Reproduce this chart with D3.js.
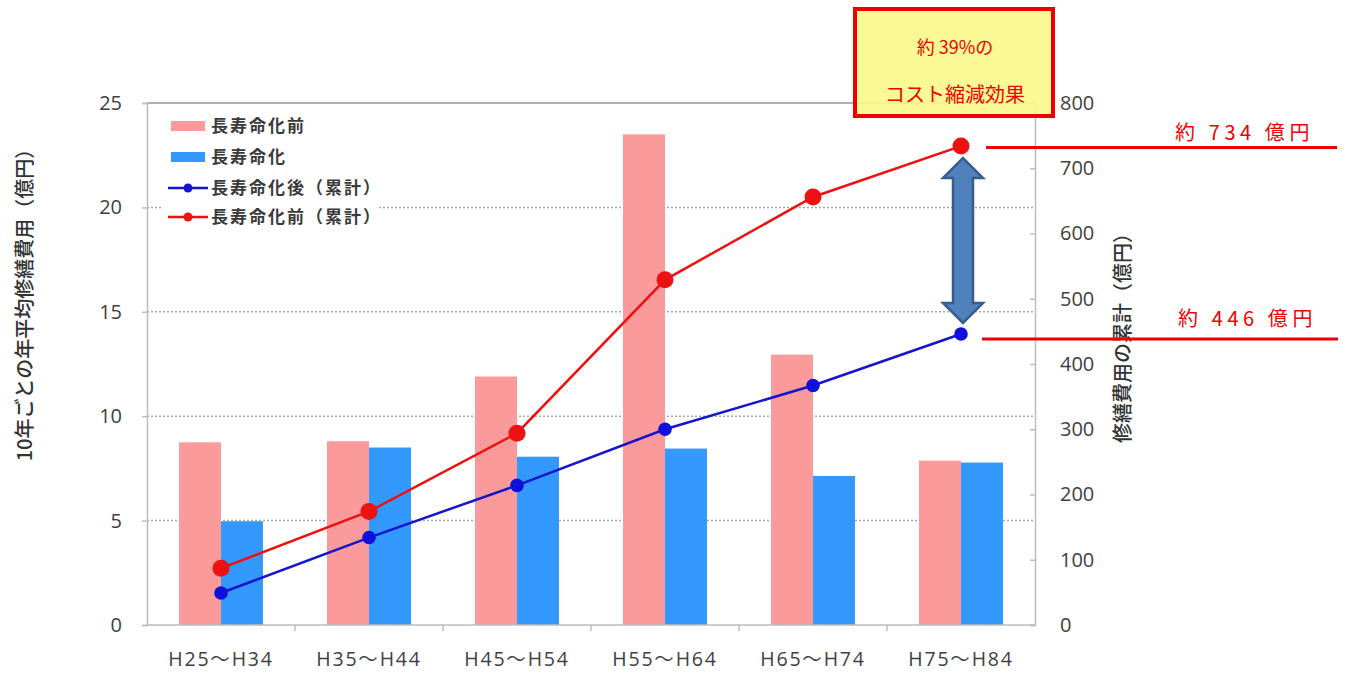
<!DOCTYPE html>
<html><head><meta charset="utf-8">
<script src="https://cdn.jsdelivr.net/npm/d3@7"></script>
<style>
body{margin:0;background:#fff;}
svg{display:block;font-family:"Noto Sans CJK JP","Noto Sans",sans-serif;}
</style></head>
<body><svg id="c" width="1345" height="677"></svg>
<script>
const categories = ["H25～H34","H35～H44","H45～H54","H55～H64","H65～H74","H75～H84"];
const barBefore = [8.75, 8.8, 11.9, 23.5, 12.95, 7.87];   // 長寿命化前
const barAfter  = [4.97, 8.5, 8.06, 8.45, 7.14, 7.78];    // 長寿命化
const cumAfter  = [49, 134, 214, 300, 367, 446];          // 長寿命化後（累計）
const cumBefore = [87, 174, 294, 529, 656, 734];          // 長寿命化前（累計）
const leftTicks = [0,5,10,15,20,25];
const rightTicks = [0,100,200,300,400,500,600,700,800];
const legendLabels = ["長寿命化前","長寿命化","長寿命化後（累計）","長寿命化前（累計）"];
const leftTitle = "10年ごとの年平均修繕費用（億円）";
const rightTitle = "修繕費用の累計（億円）";
const noteLines = ["約 39%の","コスト縮減効果"];
const labelTop = "約 734 億円";
const labelBottom = "約 446 億円";

const svg = d3.select("#c");
const L = 147, R = 1035, T = 103, B = 625;
const pink = "#fb9a9a", blue = "#3399ff", red = "#ee1111", navy = "#1515cc";
const txt = "#404040", axisCol = "#bdbdbd";
const latin = "'Open Sans','Noto Sans CJK JP',sans-serif";

const x0 = d3.scaleBand().domain(categories).range([L, R]);
const x1 = d3.scaleBand().domain(["b","a"]).range([0, x0.bandwidth()]).paddingOuter(0.762);
const yL = d3.scaleLinear().domain([0,25]).range([B, T]);
const yR = d3.scaleLinear().domain([0,800]).range([B, T]);

// gridlines
svg.append("g").selectAll("line").data([5,10,15,20]).join("line")
  .attr("x1", L).attr("x2", R).attr("y1", d=>yL(d)).attr("y2", d=>yL(d))
  .attr("stroke", "#a6a6a6").attr("stroke-width", 1.5).attr("stroke-dasharray","2,2");
// top border
svg.append("line").attr("x1", L).attr("x2", R).attr("y1", T).attr("y2", T)
  .attr("stroke", "#b0b0b0").attr("stroke-width", 2);

// bars
const g = svg.append("g");
categories.forEach((c,i)=>{
  g.append("rect").attr("x", x0(c)+x1("b")).attr("width", x1.bandwidth())
    .attr("y", yL(barBefore[i])).attr("height", B - yL(barBefore[i])).attr("fill", pink);
  g.append("rect").attr("x", x0(c)+x1("a")).attr("width", x1.bandwidth())
    .attr("y", yL(barAfter[i])).attr("height", B - yL(barAfter[i])).attr("fill", blue);
});

// axes
const axL = svg.append("g").attr("transform", `translate(${L},0)`)
  .call(d3.axisLeft(yL).tickValues(leftTicks).tickSize(5).tickPadding(20));
const axR = svg.append("g").attr("transform", `translate(${R},0)`)
  .call(d3.axisRight(yR).tickValues(rightTicks).tickSize(-5).tickPadding(25));
const axB = svg.append("g").attr("transform", `translate(0,${B})`)
  .call(d3.axisBottom(x0).tickSize(0).tickPadding(27));
[axL, axR, axB].forEach(a=>{
  a.select(".domain").attr("stroke", axisCol).attr("stroke-width", 1.5);
  a.selectAll(".tick line").attr("stroke", axisCol).attr("stroke-width", 1.5);
  a.selectAll("text").attr("fill", txt).attr("font-size", 20).attr("font-family", latin);
});
axB.select(".domain").attr("d", `M${L},0H${R}`);
axB.selectAll("text").attr("letter-spacing", 1.8).attr("font-size", 19.5);
// category boundary ticks
svg.append("g").selectAll("line").data(categories.slice(1)).join("line")
  .attr("x1", d=>x0(d)).attr("x2", d=>x0(d)).attr("y1", B).attr("y2", B+6)
  .attr("stroke", axisCol).attr("stroke-width", 1.5);

// lines
const xc = c => x0(c) + x0.bandwidth()/2;
const lineGen = d3.line().x((d,i)=>xc(categories[i])).y(d=>yR(d));
svg.append("path").datum(cumAfter).attr("d", lineGen).attr("fill","none")
  .attr("stroke", navy).attr("stroke-width", 2.5);
svg.append("path").datum(cumBefore).attr("d", lineGen).attr("fill","none")
  .attr("stroke", red).attr("stroke-width", 2.5);
svg.append("g").selectAll("circle").data(cumAfter).join("circle")
  .attr("cx",(d,i)=>xc(categories[i])).attr("cy", d=>yR(d)).attr("r", 6.8).attr("fill", "#1010dd");
svg.append("g").selectAll("circle").data(cumBefore).join("circle")
  .attr("cx",(d,i)=>xc(categories[i])).attr("cy", d=>yR(d)).attr("r", 8.5).attr("fill", red);

// legend
const lg = svg.append("g");
lg.append("rect").attr("x", 162).attr("y", 110).attr("width", 216).attr("height", 122).attr("fill", "#fff");
const rowY = [126, 157, 188, 217];
legendLabels.forEach((t,i)=>{
  const y = rowY[i];
  if (i < 2) {
    lg.append("rect").attr("x", 171).attr("y", y-5).attr("width", 34).attr("height", 10)
      .attr("fill", i===0 ? pink : blue);
  } else {
    const col = i===2 ? navy : red;
    lg.append("line").attr("x1",168).attr("x2",208).attr("y1",y).attr("y2",y)
      .attr("stroke", col).attr("stroke-width", 2.5);
    lg.append("circle").attr("cx",188).attr("cy",y).attr("r",4.5).attr("fill", col);
  }
  lg.append("text").attr("x", 211).attr("y", y).attr("dy","0.35em")
    .attr("font-size", 17).attr("font-weight", 700).attr("letter-spacing", 2)
    .attr("fill", "#3a3a3a").text(t);
});

// axis titles
svg.append("text").attr("transform", "translate(32,300) rotate(-90)")
  .attr("text-anchor","middle").attr("font-size", 20).attr("font-weight", 500)
  .attr("fill", "#333").text(leftTitle);
svg.append("text").attr("transform", "translate(1130,333) rotate(-90)")
  .attr("text-anchor","middle").attr("font-size", 20).attr("font-weight", 500)
  .attr("fill", "#333").text(rightTitle);

// double arrow
const ax = xc(categories[5]) + 2;
const yTop = yR(cumBefore[5]) + 12, yBot = yR(cumAfter[5]) - 11;
const hw = 20, sw = 10, hl = 20;
const arrowPts = [
  [ax, yTop],[ax+hw, yTop+hl],[ax+sw, yTop+hl],[ax+sw, yBot-hl],[ax+hw, yBot-hl],
  [ax, yBot],[ax-hw, yBot-hl],[ax-sw, yBot-hl],[ax-sw, yTop+hl],[ax-hw, yTop+hl]
];
svg.append("path").attr("d", d3.line()(arrowPts) + "Z")
  .attr("fill", "#4f81bd").attr("stroke", "#385d8a").attr("stroke-width", 2.5).attr("stroke-linejoin","miter");

// reference lines & labels
svg.append("line").attr("x1", 986).attr("x2", 1337).attr("y1", yR(cumBefore[5])+1.5).attr("y2", yR(cumBefore[5])+1.5)
  .attr("stroke", "#ee0000").attr("stroke-width", 3);
svg.append("line").attr("x1", 982).attr("x2", 1338).attr("y1", yR(cumAfter[5])+5).attr("y2", yR(cumAfter[5])+5)
  .attr("stroke", "#ee0000").attr("stroke-width", 3);
svg.append("text").attr("x", 1175).attr("y", 140).attr("font-size", 20).attr("letter-spacing", 4.6)
  .attr("fill", "#ee0000").text(labelTop);
svg.append("text").attr("x", 1178).attr("y", 326).attr("font-size", 20).attr("letter-spacing", 4.6)
  .attr("fill", "#ee0000").text(labelBottom);

// note box
svg.append("rect").attr("x", 855).attr("y", 9).attr("width", 198).attr("height", 107)
  .attr("fill", "#fbf889").attr("fill-opacity", 0.9).attr("stroke", "#ee0000").attr("stroke-width", 4);
svg.append("text").attr("x", 955).attr("y", 54).attr("text-anchor","middle").attr("font-size", 18)
  .attr("fill", "#ee0000").text(noteLines[0]);
svg.append("text").attr("x", 955).attr("y", 102).attr("text-anchor","middle").attr("font-size", 20)
  .attr("fill", "#ee0000").text(noteLines[1]);
</script></body></html>
